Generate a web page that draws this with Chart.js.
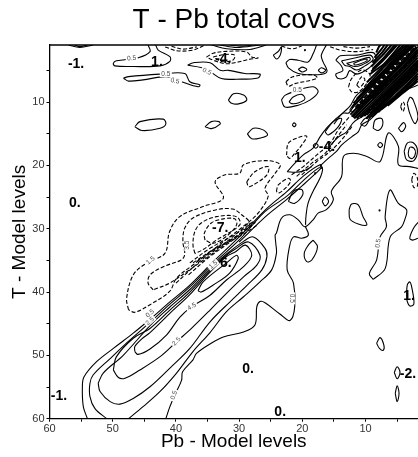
<!DOCTYPE html>
<html>
<head>
<meta charset="utf-8">
<title>T - Pb total covs</title>
<script src="https://cdn.jsdelivr.net/npm/chart.js@4/dist/chart.umd.min.js"></script>
<style>
    html, body { margin: 0; padding: 0; background: #fff; overflow: hidden; }
</style>
</head>
<body>
<canvas id="covs" width="418" height="457"></canvas>
<script>
/* global Chart */

const X_TICKS = [60, 55, 50, 45, 40, 35, 30, 25, 20, 15, 10, 5];
const Y_TICKS = [5, 10, 15, 20, 25, 30, 35, 40, 45, 50, 55, 60];
const LABELLED_TICKS = [10, 20, 30, 40, 50, 60];

// positive lobe, [Pb level, T level]
const lobeOuterRight = [[41.6,60],[40.95,58.1],[40.05,56],[39.1,53.9],[38.95,52.6],[37.3,50.7],[36.75,49.7],[34.6,48.2],[32.5,47.1],[29.3,46.3],[27.5,45.2],[27.2,42.3],[26.7,41.5],[25.9,41.7],[23.5,43.5],[21.95,44.5],[21.2,42.3],[21.4,38.6],[22.4,36.5],[22.05,32.9],[21.4,31.3],[20.1,31.5],[19.05,31],[19.5,29.7]];
const lobeOuterTop = [[54,60],[54.65,58.1],[54.8,55],[54.55,53.4],[52.55,51],[49.9,48.9],[46.75,46.5],[44.1,44.3],[41,41.6],[37.8,38.9],[34.6,35.7],[29.9,31.2],[25.6,26.8],[22.5,24.2],[19.85,21.7],[17.2,19.9],[16.8,20.5]];
const lobeSecond = [[50.95,60],[52.8,58.4],[53.6,56.5],[53.6,54.4],[53.1,53.1],[50.4,50.5],[47.3,47.6],[44.1,44.8],[41,41.95],[37.8,39.2],[34.6,36],[29.9,31.7],[26,27.4],[22.5,24.9],[19.85,22.4],[17.4,20.4],[16.8,20.5]];
const lobeSecondLower = [[47.5,60],[45.2,58.1],[42.5,55.7],[39.9,52.8],[37.3,49.4],[34.6,46.4],[32,43.1],[29.3,40.75],[26.7,38.4],[24.85,36.5],[24.1,33.9],[24.2,32.3],[24.3,31],[24.1,30.7],[23.3,28.35],[22,27.8],[20.65,28.6],[19.6,29.7],[18.3,28.6],[17.5,27.55],[16.2,27],[15.1,25.45],[15.4,24.1],[13.8,21.8],[13.5,18.6],[11.9,18.1],[9.8,18.6],[7.7,19.4],[6.4,14.9],[4.8,17],[4.8,19.9],[3,20.2],[1.7,20.5]];
const ridgeTipDown = [[17.2,20.1],[16.8,20.6],[17.2,22],[18.3,24.1],[19.1,26],[19.4,27.8],[19.5,29.4]];
const ridgeThird = [[30,32.1],[25.6,27.9],[22.5,25.4],[20,23.2],[18,21.4],[17,20.4]];
const lobeThird = [[52.3,54.4],[52,55.7],[50.4,57.3],[48.85,57.7],[46.75,56.8],[44.1,54.95],[40.95,52],[37.8,48.9],[34.6,44.7],[31.4,41.5],[28.8,39],[26.4,36.5],[25.6,34.4],[25.9,33.1],[27.75,31.3],[29.3,32],[32,34],[34.6,36.3],[37.8,39.6],[41,42.4],[44.1,45.3],[48.3,49.95],[51.5,52.8],[52.3,54.4]];
const lobeFourth = [[49.9,52.3],[49.1,53.5],[48.05,53.6],[45.7,52.3],[42.5,50.2],[39.9,47.85],[37.5,45.7],[34.6,42.85],[32,40.2],[29.3,37.6],[27.2,35.75],[26.7,34.2],[28.5,32.1],[30.6,33.2],[32,34.2],[34.6,36.6],[37.8,40],[41,42.9],[44.1,45.75],[46.75,47.3],[49.4,50.2],[49.9,52.3]];
const lobeFifth = [[46.5,49.4],[46,49.85],[44.1,49],[41.5,46.8],[39.4,44],[37.5,42.3],[34.6,40.5],[32,38.1],[29.3,36],[28,34.2],[29,32.6],[30.5,33.6],[32,34.4],[34.6,36.85],[37.8,40.4],[41,43.4],[44.1,46.4],[45.4,47.4],[46.5,48.6],[46.5,49.4]];
const lobeCore = [[36.5,39.8],[35.7,38.4],[32,35.4],[30.4,34.2],[30.15,34.75],[31.5,37],[34.1,38.9],[36,40],[36.5,39.8]];

// negative lobe next to the diagonal
const negOuter = [[47.5,42.8],[47.8,41],[46.75,37.3],[44.6,35.4],[41.75,33.9],[41,30.45],[39.4,28.1],[35.7,26.5],[32.5,25.2],[33.8,22.6],[32.2,21.5],[29.9,21.25],[29.3,19.9],[25.6,19.25],[23.5,19.9],[24.3,21.25],[25.9,23.6],[25.4,24.9],[27,27.55],[28.8,29.2],[31.5,31.3],[34.1,33.3],[37.25,35.7],[39.9,37.8],[41,39.9],[44.1,42],[46.5,43.2],[47.5,42.8]];
const negSecond = [[43.6,39.65],[44.4,38.6],[44.1,37.3],[42,36],[39.1,34.9],[38.6,34],[38.9,32],[38.6,29.9],[37.3,28.3],[33.6,27],[31,26.9],[29.6,27.8],[28.3,29.1],[29.2,30.2],[32,32.3],[35,34.5],[38,36.6],[41,38.6],[43.6,39.65]];
const negThird = [[37,33.9],[37.3,32.55],[37,30.45],[36,29.1],[33.6,28.1],[30.4,28.1],[29.9,29.4],[33.6,31.8],[35.7,33.3],[37,33.9]];
const negCore = [[35.4,31.8],[35.5,30.7],[34.4,29.1],[32.5,28.45],[30.7,28.45],[30.4,29.4],[32,31.2],[34.1,32.3],[35.4,31.8]];
const negFineA = [[37.8,35.4],[34.6,33.1],[29.9,30.45],[27.8,28.9]];
const negFineB = [[37.3,35.4],[34.1,33.3],[29.9,30.9],[27.4,29]];
const negFineC = [[36.7,35.2],[33.6,33.1],[29.9,31.2],[27.2,29.5]];
const negFineD = [[38,37.3],[35,34.7],[31,31.8],[28,29.5]];
const negFineE = [[40,38.6],[36,35],[32,32.1],[28.5,29.1]];
const negRing = [[28.8,22.6],[27.5,21],[25.4,20.2],[25.6,21.5],[27.75,23.1],[28.5,23.35],[28.8,22.6]];
const negLens = [[24.1,24.1],[23.8,23.1],[22.2,22.05],[21.85,22.55],[23,23.9],[23.8,24.4],[24.1,24.1]];
const negUpper = [[22.5,18.4],[22.2,16.5],[20.6,15.6],[19.3,15.4],[20.1,16.8],[21.2,18.1],[22,18.9],[22.5,18.4]];
const ridgeDashA = [[21.7,21.5],[19.85,20.2],[17.7,18.35],[15.6,16.5],[14.3,14.4],[12.5,12.3]];
const ridgeDashB = [[20.9,21.75],[18.5,19.65],[16.4,18.1],[14.85,16],[13,13.6]];
const ridgeDashC = [[20.1,21.5],[17.7,19.4],[15.6,17.8],[13.8,16],[11.95,13.6]];

// diagonal band, upper levels
const bandUpper = [[22.4,21],[21.2,19.7],[19.85,18.35],[18.3,17.3],[17.2,15.5],[16.2,14.15],[14.85,12.8],[12.5,10.7],[11.4,8.9],[8.8,7.05],[6.15,3.9],[4,1.3]];
const bandUpperBack = [[22.4,21],[21,21.1],[19.85,20.9],[18.5,20.2]];
const bandLower = [[17.2,20.1],[15.9,18.9],[14.6,17.8],[13.8,16.8],[12.2,15.5],[11.15,14.7],[10.6,13.6],[9.3,12.8],[7.7,11.25],[6.15,9.95],[4.55,8.6],[1.7,7.3]];
const bandSecond = [[15.6,16.9],[14.4,15.6],[13,14.7],[11.9,13.2],[10.4,12.2],[8.9,10.9]];
const bandThird = [[15,13.5],[13.6,11.8],[12.6,11.7],[11.5,10.1],[10.2,9.2]];
const denseBand = [
    [[8.3,2.2],[7.9,1.3],[7.6,1]],
    [[8.6,3],[7.6,1.8],[7,1]],
    [[8.9,3.8],[7.4,2.2],[6.5,1]],
    [[9.1,4.4],[7.3,2.6],[5.9,1]],
    [[8.9,4.8],[7.1,3],[5.4,1]],
    [[9.1,5.2],[7.2,3.4],[5,1]],
    [[9.3,5.6],[7,3.9],[4.5,1]],
    [[9.8,6.9],[7.2,4.3],[4,1]],
    [[10.5,8.3],[7.1,4.5],[3.6,1]],
    [[11.4,9.5],[7.2,5.1],[3.1,1]],
    [[11.9,10.2],[7.4,5.6],[2.7,1]],
    [[12.2,11],[7.1,5.6],[2.2,1]],
    [[12.4,12],[7.5,7],[1.7,1.3]],
    [[12.2,12.3],[7.7,7.6],[1.7,1.7]],
    [[12,12.4],[7.2,7.5],[1.7,2.2]],
    [[11.8,12.6],[7.6,8.4],[1.7,2.6]],
    [[11.4,12.6],[7.1,8.3],[1.7,3]],
    [[10.8,12.4],[7.4,9],[1.7,3.4]],
    [[9.9,12.6],[6.6,9.2],[1.7,4.3]],
    [[9.5,12.6],[6.2,9.1],[1.7,4.7]],
    [[9,12.4],[5.8,9],[1.7,5.1]],
    [[8.6,12],[5.5,9.2],[1.7,5.5]],
    [[8,11.6],[5,9],[1.7,5.9]],
    [[7.4,11.1],[4.6,8.9],[1.7,6.3]],
    [[6.5,10.6],[4,8.5],[1.7,6.7]],
    [[9.6,7.6],[6.9,4.9],[3.3,1]],
    [[10,8.2],[6.7,5.2],[2.5,1]],
    [[9.4,9.6],[6.4,6.3],[2,1.4]],
    [[9,9.4],[6.1,6.5],[1.7,2]],
    [[8.8,10.4],[6,8],[1.7,3.7]],
    [[9,11],[5.5,7.6],[1.7,3.9]],
    [[9.3,11.8],[5.3,8],[1.7,4.1]]
];
// the speckled stripes inside the band
const speckleBand = [
    [[11.6,10.9],[7.3,6.1],[2.4,1.1]],
    [[11.3,11.1],[7,6.1],[2,1.2]],
    [[10.9,11],[7.2,6.7],[1.7,1.1]],
    [[10.6,12.3],[6.9,8.7],[1.7,3.5]],
    [[10.2,12.2],[7,9.2],[1.7,3.8]],
    [[9.8,12],[6.4,8.7],[1.7,4.4]],
    [[8.4,9],[5.7,6.4],[1.7,2.4]],
    [[8.1,9.8],[5,7],[1.7,4.5]],
    [[7,7.2],[4.8,5.2],[2.6,3.1]],
    [[6.6,9.2],[4.2,6.9],[1.7,4.9]]
];
const nestA = [[14.7,3.4],[14,2.7],[11.4,2.6],[8.8,2.2],[8.35,3.4],[9.55,4.7],[11.4,5.6],[12.5,5.05],[13.1,6.1],[14.3,6.3],[14.7,5.6],[13.6,5.05],[13.9,4.2],[14.7,3.4]];
const nestB = [[13.8,3.5],[11.9,3.1],[9.3,2.6],[8.8,3.3],[10.1,4.3],[11.4,4.95],[12.5,4.4],[13.3,4.2],[13.8,3.5]];
const nestC = [[13,3.9],[11.4,3.5],[9.4,2.95],[9.3,3.4],[10.6,4.15],[11.7,4.4],[12.5,4.15],[13,3.9]];
const nestD = [[11.9,3.9],[10.9,3.5],[9.8,3.2],[9.8,3.5],[10.9,4],[11.7,4.15],[11.9,3.9]];
const nestDashA = [[15.6,1.26],[14,1.8],[11.4,2.05],[8.8,1.7]];
const nestDashB = [[13.5,1.26],[11.4,1.5],[9.3,1.26]];
const nestDashC = [[12.7,7.6],[12.2,6.3],[10.6,4.95],[9.3,5.7],[9.8,7.05],[11.15,8.4],[12.2,8.4],[12.7,7.6]];
const nestDashD = [[11.4,7.3],[10.6,6],[10.1,6.5],[10.9,7.7],[11.4,7.3]];

// isolated solid contours
const topLeftA = [[44.4,1],[44.1,2.05],[45.95,3],[49.4,3.5],[49.9,3.9],[49.65,4.3],[46.75,4.4],[42.5,4.3],[40.95,3.6],[40.95,2.85],[42.8,1.8],[43.2,1]];
const topLeftB = [[48.3,6.25],[47.5,6],[42.5,5.6],[38.6,5.5],[37.8,6.8],[36.2,7.3],[36.5,7.6],[39.1,6.8],[41.5,6],[45.2,6.5],[47.5,6.7],[48.3,6.25]];
const topMidA = [[38.15,4.2],[37.25,3.8],[34.6,3.8],[33,5],[31.7,5],[29.1,5.5],[26.7,5.6],[27,6.2],[30.4,6.4],[32.8,6.3],[34.6,5.2],[35.9,4.6],[38.15,4.2]];
const topRidgeLeft = [[22.6,3.8],[22,3.3],[20.65,3.4],[19.1,3.7],[18.3,2.4],[17.75,1]];
const topRidgeRight = [[22.6,3.8],[22.2,4.6],[20.65,5.5],[18,5.7],[16.4,5.5],[16.1,5],[16.7,3.7],[17,2.6],[16.2,1]];
const topHook = [[24.6,2.6],[23.8,2],[23.3,1.3],[23.5,2.6],[24.1,3.2],[24.6,2.6]];
const capGrayA = [[57,1],[55.2,1.4],[53.1,1]];
const capGrayB = [[56,1],[55.2,1.25],[54,1]];
const capMidA = [[34.35,1],[32,1.6],[28.3,1.7],[25.7,1]];
const capMidB = [[33,1],[30.4,1.4],[26.7,1]];
const capMidC = [[31.5,1],[29.5,1.2],[27.9,1]];
const ovalA = [[46.5,13.9],[45.7,13.1],[42,12.7],[41.6,13.5],[42.5,14.15],[45.4,14.5],[46.5,13.9]];
const ovalB = [[35.4,13.9],[34.4,13.1],[33.2,13.1],[33,13.5],[34.4,14.2],[35.4,13.9]];
const ovalC = [[31.7,9.7],[30.9,8.7],[29.3,8.9],[28.8,9.7],[30.1,10.3],[31.2,10.2],[31.7,9.7]];
const ovalD = [[28.7,15.05],[27.75,14.15],[26.2,14.4],[25.5,15.2],[26.7,15.7],[28,15.8],[28.7,15.05]];
const ovalE = [[23.3,9.7],[22.75,8.95],[20.9,8.2],[18.3,7.6],[17.5,8.4],[18.8,9.7],[20.65,10.5],[22.75,10.8],[23.3,9.7]];
const ovalF = [[22.1,10],[21.45,9.2],[20.1,8.8],[19.6,9.5],[20.65,10.15],[21.7,10.25],[22.1,10]];
const ovalG = [[20.65,4.85],[20,4.5],[19.3,4.85],[20,5.26],[20.65,4.85]];
const ovalH = [[17.5,5],[17,4.6],[16.3,5],[17,5.4],[17.5,5]];
const ridgeLoopA = [[22.2,25.7],[21.4,24.1],[20.1,23.8],[19.95,24.7],[21.2,26],[22.2,25.7]];
const ridgeLensA = [[16.4,14.7],[15.1,13.1],[13.8,12.6],[14.3,13.9],[15.9,15.2],[16.4,14.7]];
const ridgeLensB = [[12.5,11.3],[11.7,10.2],[11.2,10.5],[12,11.5],[12.5,11.3]];
const smallA = [[16.85,25.7],[16.4,25],[15.85,25.7],[16.4,26.4],[16.85,25.7]];
const smallB = [[12.6,27],[12.2,26.1],[11.15,26.25],[10.4,28.1],[9.8,29.4],[11.15,29.25],[12.45,28.5],[12.6,27]];
const smallC = [[8.8,14.15],[8.5,12.85],[7.45,12.6],[7.3,13.65],[8,14.5],[8.8,14.15]];
const smallD = [[4.8,14.15],[4,13.25],[3.65,13.9],[4.3,14.7],[4.8,14.15]];
const smallE = [[10.8,13.5],[10.1,12.6],[9.5,12.8],[10.1,13.8],[10.8,13.5]];
const sideOuter = [[3.9,17.8],[3.4,16.5],[2.5,16.4],[1.8,17.6],[2.35,19.25],[3.5,19.15],[3.9,17.8]];
const sideInner = [[3.25,18.1],[3,17.15],[2.35,17.3],[2.1,18.1],[2.55,18.9],[3.1,18.7],[3.25,18.1]];
const sideUpper = [[3.4,10.2],[2.95,9.25],[2.45,9.7],[1.7,12.3],[2.2,13.4],[3,11.8],[3.4,10.2]];
const tongue = [[8.8,38],[9.4,37.1],[8.25,34.95],[7.7,31.3],[6.7,29.7],[6.9,28.1],[6.15,23.9],[4.8,26],[3.5,27],[3.8,28.6],[4.3,29.7],[6.1,31.3],[6.9,36.3],[8.8,38]];
const edgeHook = [[1.7,29],[2.45,30],[3,31.5],[2.55,31.8],[1.7,31.5]];
const blobMid = [[18.3,31.8],[17.6,32.85],[18.5,34.95],[19.3,35.2],[19.7,33.9],[19.05,32.6],[18.3,31.8]];
const lowA = [[8.25,48.1],[7.7,47.2],[7.1,48.4],[7.2,49.2],[7.8,48.9],[8.25,48.1]];
const lowB = [[5.45,52.7],[5,51.8],[4.55,52.7],[5,53.7],[5.45,52.7]];
const lowC = [[5.3,56],[5,54.8],[4.7,56],[5,57.3],[5.3,56]];
const lowD = [[3.5,40.5],[3.4,38.9],[3,38.4],[2.7,39.2],[2.35,41.9],[3,42.2],[3.4,41.5],[3.5,40.5]];
const tinyA = [[21.6,13.6],[21.3,13.3],[21,13.6],[21.3,13.9],[21.6,13.6]];
const tinyB = [[8.1,16.8],[7.7,16.4],[7.3,16.8],[7.7,17.2],[8.1,16.8]];
const tinyC = [[18.3,16.9],[17.9,16.5],[17.5,16.9],[17.9,17.3],[18.3,16.9]];
const tinyD = [[7.9,27.1],[7.8,27],[7.7,27.1],[7.8,27.2],[7.9,27.1]];
const tinyE = [[18.1,21.25],[18,21.15],[17.9,21.25],[18,21.35],[18.1,21.25]];
const tinyF = [[19.7,1.8],[19.6,1.7],[19.5,1.8],[19.6,1.9],[19.7,1.8]];

// isolated dashed contours
const dashCapA = [[41.7,1.3],[39.9,1.9],[37.3,1.8],[35.4,1]];
const dashCapB = [[40.7,1.2],[38.9,1.65],[36.7,1.3]];
const dashCapC = [[23.3,1.16],[21.7,1.6],[20.1,1.16]];
const dashTopA = [[35.15,2.9],[34.1,2.3],[32,2],[28.8,2.1],[28,2.9],[27,3.05],[28.6,3.3],[30.7,3.8],[32.2,3.95],[34.1,3.4],[35.15,2.9]];
const dashTopB = [[34.1,2.9],[32.2,2.5],[30.7,2.6],[31,3.4],[32.8,3.6],[34.1,2.9]];
const dashTopC = [[22.6,6.8],[21.5,6],[18.3,5.7],[17.65,6.2],[18.8,6.6],[21.2,7.1],[22.2,7.5],[22.6,6.8]];
const dashSideA = [[4.45,10.75],[4.1,9.95],[3.8,10.6],[4.1,11.5],[4.45,10.75]];
const dashSideB = [[2.7,22.3],[2.35,21.25],[1.8,22],[1.8,23.25],[2.35,23.5],[2.7,22.3]];

const SOLID_LINES = [lobeOuterRight, lobeOuterTop, lobeSecond, lobeSecondLower, ridgeTipDown, ridgeThird, lobeThird, lobeFourth, lobeFifth, lobeCore,
    bandUpper, bandUpperBack, bandLower, bandSecond, bandThird, nestA, nestB, nestC, nestD,
    topLeftA, topLeftB, topMidA, topRidgeLeft, topRidgeRight, topHook, capGrayA, capGrayB, capMidA, capMidB, capMidC,
    ovalA, ovalB, ovalC, ovalD, ovalE, ovalF, ovalG, ovalH, ridgeLoopA, ridgeLensA, ridgeLensB,
    smallA, smallB, smallC, smallD, smallE, sideOuter, sideInner, sideUpper, tongue, edgeHook, blobMid,
    lowA, lowB, lowC, lowD, tinyA, tinyB, tinyC, tinyD, tinyE, tinyF];
const DASHED_LINES = [negOuter, negSecond, negThird, negCore, negFineA, negFineB, negFineC, negFineD, negFineE, negRing, negLens, negUpper,
    ridgeDashA, ridgeDashB, ridgeDashC, nestDashA, nestDashB, nestDashC, nestDashD,
    dashCapA, dashCapB, dashCapC, dashTopA, dashTopB, dashTopC, dashSideA, dashSideB];

// big extrema labels
const extremaText = ['-1.', '1.', '-4.', '0.', '1.', '-4.', '-7.', '6.', '1.', '0.', '-2.', '0.', '-1.'];
const extremaX = [55.8, 43, 32.5, 56, 20.4, 16.1, 33, 32.1, 3.1, 28.6, 3.3, 23.5, 58.5];
const extremaY = [4, 3.7, 3.2, 25.9, 18.8, 17.1, 29.9, 35.4, 40.7, 52.1, 53, 58.9, 56.4];

// small contour labels
const contourText = ['0.5', '0.5', '0.5', '0.5', '0.5', '0.5', '1.5', '3.5', '0.5', '2.5', '4.5', '2.5', '0.5', '0.5', '0.5', '1.5'];
const contourX = [47, 41.6, 40, 35.1, 40.15, 20.8, 44, 38.2, 44.1, 44.1, 37.5, 39.9, 40.3, 21.6, 8, 34.1];
const contourY = [3.1, 5.6, 6.7, 5.2, 6.7, 8.1, 35, 32.6, 43.4, 44.6, 42.3, 47.8, 56.3, 41, 32.3, 35.7];
const contourAngle = [-5, 0, 15, 25, 10, 0, -40, -90, -40, -40, -30, -45, -70, 90, -80, -40];

const toPoints = line => line.map(([x, y]) => ({ x, y }));

const datasets = [
    ...SOLID_LINES.map(line => ({ data: toPoints(line), borderWidth: 1.1, borderDash: [], tension: 0.35 })),
    ...DASHED_LINES.map(line => ({ data: toPoints(line), borderWidth: 1.1, borderDash: [4, 2], tension: 0.35 })),
    ...denseBand.map(line => ({ data: toPoints(line), borderWidth: 2, borderDash: [], tension: 0.2 })),
    ...speckleBand.map(line => ({ data: toPoints(line), borderWidth: 2, borderDash: [5, 1.5], tension: 0.2 }))
];

const plotLabels = {
    id: 'plotLabels',
    afterDatasetsDraw(chart) {
        const { ctx, chartArea, scales: { x, y } } = chart;

        // top of the frame, the right side runs out of the picture
        ctx.save();
        ctx.strokeStyle = '#000';
        ctx.lineWidth = 1.3;
        ctx.beginPath();
        ctx.moveTo(chartArea.left, chartArea.top);
        ctx.lineTo(chartArea.right, chartArea.top);
        ctx.stroke();

        ctx.textAlign = 'center';
        ctx.textBaseline = 'middle';
        ctx.font = '6.5px "Liberation Sans"';
        contourText.forEach((text, i) => {
            ctx.save();
            ctx.translate(x.getPixelForValue(contourX[i]), y.getPixelForValue(contourY[i]));
            ctx.rotate(contourAngle[i] * Math.PI / 180);
            ctx.fillStyle = '#fff';
            ctx.fillRect(-6, -3, 12, 6);
            ctx.fillStyle = '#444';
            ctx.fillText(text, 0, 0);
            ctx.restore();
        });

        ctx.fillStyle = '#000';
        ctx.font = 'bold 14px "Liberation Sans"';
        extremaText.forEach((text, i) => {
            ctx.fillText(text, x.getPixelForValue(extremaX[i]), y.getPixelForValue(extremaY[i]));
        });
        ctx.restore();
    }
};

new Chart(document.getElementById('covs'), {
    type: 'scatter',
    data: { datasets },
    plugins: [plotLabels],
    options: {
        responsive: false,
        animation: false,
        showLine: true,
        layout: { padding: 0 },
        elements: {
            point: { radius: 0, hoverRadius: 0 },
            line: { borderColor: '#000', fill: false, capBezierPoints: true }
        },
        scales: {
            x: {
                type: 'linear',
                reverse: true,
                min: 1.7,
                max: 60,
                afterBuildTicks: axis => { axis.ticks = X_TICKS.map(value => ({ value })); },
                afterFit: axis => { axis.height = 38.3; },
                border: { color: '#000', width: 1.3 },
                grid: { drawOnChartArea: false, tickColor: '#000', tickLength: 3 },
                ticks: {
                    autoSkip: false,
                    maxRotation: 0,
                    padding: 1,
                    color: '#333',
                    font: { family: 'Liberation Sans', size: 11 },
                    callback: v => LABELLED_TICKS.includes(v) ? String(v) : ''
                },
                title: {
                    display: true,
                    text: 'Pb - Model levels',
                    color: '#000',
                    padding: { top: 0, bottom: 3.5 },
                    font: { family: 'Liberation Sans', size: 19 }
                }
            },
            y: {
                type: 'linear',
                reverse: true,
                min: 1,
                max: 60,
                afterBuildTicks: axis => { axis.ticks = Y_TICKS.map(value => ({ value })); },
                afterFit: axis => { axis.width = 49.5; },
                border: { color: '#000', width: 1.3 },
                grid: { drawOnChartArea: false, tickColor: '#000', tickLength: 3 },
                ticks: {
                    autoSkip: false,
                    padding: 2,
                    color: '#333',
                    font: { family: 'Liberation Sans', size: 11 },
                    callback: v => LABELLED_TICKS.includes(v) ? String(v) : ''
                },
                title: {
                    display: true,
                    text: 'T - Model levels',
                    color: '#000',
                    padding: { top: 8.5, bottom: 0 },
                    font: { family: 'Liberation Sans', size: 19 }
                }
            }
        },
        plugins: {
            legend: { display: false },
            tooltip: { enabled: false },
            title: {
                display: true,
                text: 'T - Pb total covs',
                color: '#000',
                fullSize: false,
                font: { family: 'Liberation Sans', size: 28, weight: 'normal', lineHeight: 1.2 },
                padding: { top: 3.5, bottom: 7.9 }
            }
        }
    }
});
</script>
</body>
</html>
